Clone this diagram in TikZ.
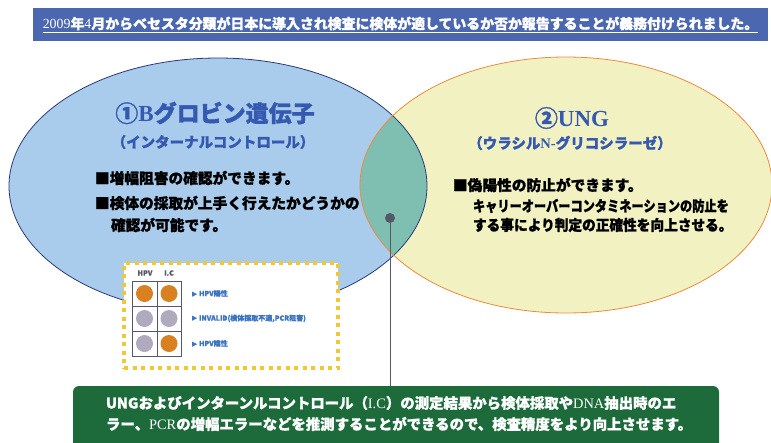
\documentclass[tikz,border=0pt]{standalone}
\usepackage{fontspec}
\setmainfont{Noto Sans CJK JP}[BoldFeatures={FakeBold=1.2}]
\newfontfamily\ser{Liberation Serif}
\newfontfamily\dv{DejaVu Sans}
\usetikzlibrary{calc}
\definecolor{bannerblue}{HTML}{4A67B0}
\definecolor{bluefill}{HTML}{A9CBEC}
\definecolor{navyline}{HTML}{2B3A78}
\definecolor{yellowfill}{HTML}{F2F1C2}
\definecolor{orangeline}{HTML}{EE8A3A}
\definecolor{interteal}{HTML}{7FBFB1}
\definecolor{titleblue}{HTML}{3558B0}
\definecolor{boxgreen}{HTML}{1D6B3B}
\definecolor{dotgray}{HTML}{555866}
\definecolor{dotyellow}{HTML}{F2C832}
\definecolor{labblue}{HTML}{3C74C0}
\definecolor{dotorange}{HTML}{D98021}
\definecolor{dotgrey}{HTML}{AFAABD}
\definecolor{gridgray}{HTML}{55576A}
\begin{document}
\begin{tikzpicture}[x=1pt,y=-1pt,
  every node/.style={inner sep=0pt, outer sep=0pt},
  titlestyle/.style={text=titleblue, font=\bfseries\fontsize{23}{26}\selectfont},
  subtitlestyle/.style={text=titleblue, font=\bfseries\fontsize{14.5}{17}\selectfont},
  bodystyle/.style={text=black, font=\bfseries\fontsize{14.7}{17}\selectfont, anchor=west},
  cellstyle/.style={circle, minimum size=17pt, inner sep=0pt},
  labstyle/.style={text=labblue, font=\bfseries\fontsize{7}{8}\selectfont, anchor=west},
  headstyle/.style={text=gridgray, font=\bfseries\fontsize{7}{8}\selectfont},
  greentext/.style={text=white, font=\bfseries\fontsize{14.4}{18}\selectfont, anchor=west},
]
\useasboundingbox (0,0) rectangle (771,442);

% banner
\node[fill=bannerblue, minimum width=735pt, minimum height=33pt, text=white,
      font=\bfseries\fontsize{13.9}{16}\selectfont] (banner) at (400.5,24.5)
  {\underline{{\mdseries\ser 2009}年{\mdseries\ser 4}月からベセスタ分類が日本に導入され検査に検体が適しているか否か報告することが義務付けられました。}};

% ellipses
\fill[bluefill] (218,186) ellipse [x radius=209pt, y radius=128pt];
\fill[yellowfill] (566,185) ellipse [x radius=206pt, y radius=128pt];
\begin{scope}
  \clip (218,186) ellipse [x radius=209pt, y radius=128pt];
  \fill[interteal] (566,185) ellipse [x radius=206pt, y radius=128pt];
\end{scope}
\draw[navyline, line width=0.8pt] (218,186) ellipse [x radius=209pt, y radius=128pt];
\draw[orangeline, line width=0.8pt] (566,185) ellipse [x radius=206pt, y radius=128pt];

% left texts
\node[titlestyle] (ltitle) at (215,113) {①{\ser B}グロビン遺伝子};
\node[subtitlestyle] (lsub) at (213,142) {（インターナルコントロール）};
\node[bodystyle] (l1) at (95,178) {■増幅阻害の確認ができます。};
\node[bodystyle] (l2) at (95,203) {■検体の採取が上手く行えたかどうかの};
\node[bodystyle] (l3) at (111,225) {確認が可能です。};

% right texts
\node[titlestyle] (rtitle) at (572,118) {②{\ser UNG}};
\node[subtitlestyle] (rsub) at (570,143) {（ウラシル{\ser N-}グリコシラーゼ）};
\node[bodystyle] (r1) at (453,185) {■偽陽性の防止ができます。};
\node[bodystyle] (r2) at (473,206) {\scalebox{0.83}[1]{キャリーオーバーコンタミネーションの防止を}};
\node[bodystyle] (r3) at (473,225) {\scalebox{0.93}[1]{する事により判定の正確性を向上させる。}};

% legend box
\node[draw=dotyellow, fill=white, line width=4pt, dash pattern=on 4pt off 4.5pt,
      minimum width=214pt, minimum height=105pt, anchor=north west] (legend) at (124,263) {};
\draw[gridgray, line width=0.8pt] (132,281) rectangle (181,356);
\draw[gridgray, line width=0.8pt] (157,281) -- (157,356);
\draw[gridgray, line width=0.8pt] (132,306) -- (181,306);
\draw[gridgray, line width=0.8pt] (132,331) -- (181,331);
\node[headstyle] (hhpv) at (145,273) {HPV};
\node[headstyle] (hic) at (169,273) {I.C};
\node[cellstyle, fill=dotorange] (c11) at (144.5,293.5) {};
\node[cellstyle, fill=dotorange] (c12) at (169,293.5) {};
\node[cellstyle, fill=dotgrey] (c21) at (144.5,318.5) {};
\node[cellstyle, fill=dotgrey] (c22) at (169,318.5) {};
\node[cellstyle, fill=dotgrey] (c31) at (144.5,343.5) {};
\node[cellstyle, fill=dotorange] (c32) at (169,343.5) {};
\node[labstyle] (lab1) at (192,293.5) {{\dv ▶} HPV陽性};
\node[labstyle] (lab2) at (192,318.5) {{\dv ▶} INVALID(検体採取不適,PCR阻害)};
\node[labstyle] (lab3) at (192,343.5) {{\dv ▶} HPV陰性};

% pin and green box
\node[circle, fill=dotgray, minimum size=10pt] (pin) at (390,218) {};
\node[fill=boxgreen, rounded corners=6pt, minimum width=646pt, minimum height=70pt, anchor=north] (gbox) at (396,386) {};
\draw[dotgray, line width=1pt] (pin) -- (pin |- gbox.north);
\node[greentext] (g1) at (106,403) {UNGおよびインターンルコントロール（{\mdseries\ser I.C}）の測定結果から検体採取や{\mdseries\ser DNA}抽出時のエ};
\node[greentext] (g2) at (106,424) {ラー、{\mdseries\ser PCR}の増幅エラーなどを推測することができるので、検査精度をより向上させます。};
\end{tikzpicture}
\end{document}
